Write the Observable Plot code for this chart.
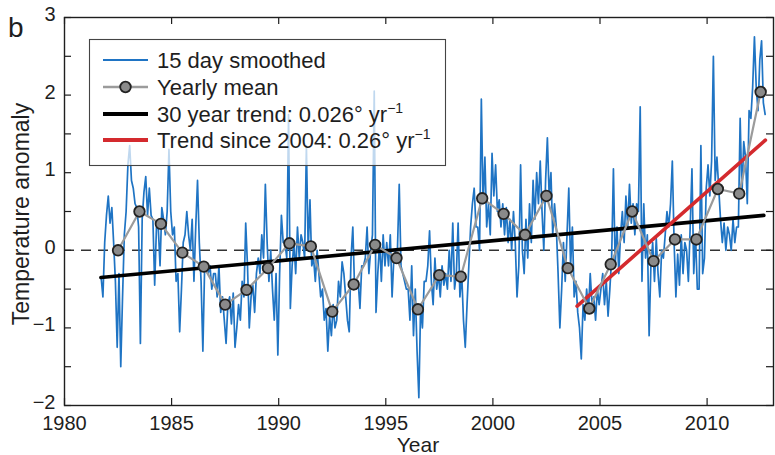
<!DOCTYPE html>
<html>
<head>
<meta charset="utf-8">
<script src="https://cdn.jsdelivr.net/npm/d3@7"></script>
<script src="https://cdn.jsdelivr.net/npm/@observablehq/plot@0.6"></script>
<style>
  html, body { margin: 0; padding: 0; background: #fff; }
  #chart svg { display: block; }
</style>
</head>
<body>
<div id="chart"></div>
<script>
// ---- Data ----
// 15-day smoothed series, sampled roughly monthly from late 1981 to mid 2012
const smoothStart = 1981.71;
const smoothStep = 1 / 12;
const smoothValues = [
  -0.35, -0.6, 0.1, 0.45,                                                   // 1981 (Sep-Dec)
  0.7, 0.35, 0.55, 0.1, -0.4, -1.25, -0.3, -1.5, -0.6, 0.2, 0.5, 1.1,       // 1982
  1.35, 0.9, 0.8, 0.6, 0.55, 0.3, -1.2, 0.4, 0.75, 0.95, 0.45, 0.8,         // 1983
  0.45, 0.4, -0.45, 0.3, 0.3, -0.2, 0.55, 0.4, 0.2, 0.5, 1.3, 0.5,          // 1984
  0.2, 0.3, -0.4, -0.3, -1.05, -0.5, 0.1, 0.2, 0.5, 0.2, 0.0, 0.4,          // 1985
  -0.4, 0.3, 0.9, 0.1, -0.4, -1.3, -0.2, -0.2, -0.3, -0.2, -0.5, -0.3,      // 1986
  -0.3, -0.6, -0.2, -0.8, -0.6, -0.9, -1.2, -0.7, -0.6, -0.95, -0.55, -1.25,// 1987
  -1.0, -0.7, -0.9, -0.4, -0.6, 0.35, -0.2, -1.0, -0.6, -0.45, -0.8, -0.3,  // 1988
  -0.1, -0.3, 0.2, -0.1, 0.85, 0.1, -0.4, 0.0, -0.5, -0.9, -0.3, -1.35,     // 1989
  -0.3, 0.45, 0.1, 0.1, -0.1, 1.75, -0.75, -0.2, 0.1, -0.3, 0.3, -0.1,      // 1990
  0.2, 0.1, -0.1, 1.35, 0.0, 0.65, -0.2, -0.1, -0.4, 0.0, -0.3, -0.6,       // 1991
  -0.5, -0.9, -0.75, -1.3, -0.85, -1.1, -0.7, -1.0, -0.9, -0.4, -0.6, -0.15,// 1992
  -0.3, -0.6, -0.9, -1.05, -0.1, 0.3, -0.5, -0.5, -0.4, -0.75, -0.2, -0.2,  // 1993
  -0.1, 0.3, -0.3, 0.0, 0.2, 2.05, -0.8, -0.3, 0.1, -0.4, 0.2, -0.2,        // 1994
  0.1, -0.2, 0.2, -0.6, -0.1, 0.0, 0.0, 0.85, -0.2, -0.3, -0.4, -0.5,       // 1995
  -0.5, -0.9, -0.2, -1.1, -0.5, -1.3, -1.9, -0.7, -1.0, -0.4, -0.4, -0.2,   // 1996
  0.25, -0.4, -0.7, -0.1, -0.5, -0.3, -0.6, -0.2, -0.45, -0.3, -0.5, 0.0,   // 1997
  -0.4, 0.35, -0.5, -0.3, 0.35, -0.6, -0.3, -0.9, -1.25, -0.7, -0.2, 0.3,   // 1998
  0.6, 0.8, 0.3, 0.3, 0.0, 1.95, 0.6, 1.2, 0.3, 0.6, 0.2, 1.25,             // 1999
  0.7, 1.1, 0.5, 0.65, 0.3, 0.6, 0.2, 0.55, 0.1, 0.4, 0.0, 0.5,             // 2000
  0.1, -0.6, -0.2, 1.1, 0.0, -0.3, 0.4, -0.1, 0.6, 0.1, 0.9, 0.4,           // 2001
  1.0, 0.6, 1.15, 0.5, 0.0, 0.9, 1.45, 0.7, 1.0, 0.2, 0.6, 0.3,             // 2002
  -0.3, -1.0, -0.5, 0.1, -0.4, 0.2, 0.8, -0.2, 0.3, -0.6, -0.4, -0.8,       // 2003
  -1.0, -1.4, -0.7, -0.9, -0.5, -0.8, -0.3, -0.7, -0.6, -0.9, -0.5, -0.7,   // 2004
  -0.5, -0.3, -0.7, -0.4, -0.85, -0.5, -0.1, 1.05, -0.2, 0.3, -0.3, 0.2,    // 2005
  0.5, 0.1, 0.7, 0.3, 0.85, 0.35, 0.6, 0.2, 0.6, 0.5, 1.85, -0.4,           // 2006
  0.6, -0.1, 0.2, -1.1, -0.2, 0.1, -0.4, 0.15, -0.3, -0.6, 0.0, -0.1,       // 2007
  0.2, 0.5, 0.3, 0.6, 1.15, 0.1, -0.6, -0.05, -0.45, 0.2, -0.3, 0.1,        // 2008
  0.0, -0.4, 0.3, 1.05, -0.3, 0.2, -0.5, -0.5, 1.35, -0.3, -0.1, 0.8,       // 2009
  1.1, 0.7, 1.15, 2.5, 0.9, 1.2, 0.8, 0.4, 0.1, 0.35, 0.0, 0.3,             // 2010
  0.2, 0.0, 0.4, 0.1, 0.3, 0.3, 1.7, 0.7, 1.4, 1.2, 0.6, 1.8,               // 2011
  1.7, 2.1, 2.75, 2.1, 1.8, 2.45, 2.7, 1.9, 1.75                            // 2012 (Jan-Sep)
];

// Yearly means (plotted at mid-year)
const yearlyYears = [1982.5, 1983.5, 1984.5, 1985.5, 1986.5, 1987.5, 1988.5, 1989.5,
  1990.5, 1991.5, 1992.5, 1993.5, 1994.5, 1995.5, 1996.5, 1997.5, 1998.5, 1999.5,
  2000.5, 2001.5, 2002.5, 2003.5, 2004.5, 2005.5, 2006.5, 2007.5, 2008.5, 2009.5,
  2010.5, 2011.5, 2012.5];
const yearlyMeans = [0.0, 0.5, 0.34, -0.03, -0.21, -0.70, -0.51, -0.23,
  0.09, 0.05, -0.79, -0.44, 0.07, -0.10, -0.76, -0.32, -0.34, 0.67,
  0.47, 0.20, 0.70, -0.23, -0.75, -0.18, 0.50, -0.14, 0.14, 0.14,
  0.79, 0.73, 2.04];

// Trend lines (end points)
const trend30Years = [1981.7, 2012.65];
const trend30Values = [-0.35, 0.45];
const trend04Years = [2003.93, 2012.72];
const trend04Values = [-0.72, 1.42];

// Ticks
const xTickLabels = [1980, 1985, 1990, 1995, 2000, 2005, 2010];
const yTickLabels = [-2, -1, 0, 1, 2, 3];
const yTickMarks = [-2, -1.5, -1, -0.5, 0, 0.5, 1, 1.5, 2, 2.5, 3];

// Legend
const legendLabels = ["15 day smoothed", "Yearly mean", "30 year trend: 0.026° yr", "Trend since 2004: 0.26° yr"];
const legendSup = ["", "", "\u22121", "\u22121"];

// ---- Styles ----
const blue = "#1f74c4";
const gray = "#9b9b9b";
const red = "#d42a2e";
const ink = "#1e1e1e";
const font = "'Liberation Sans', Arial, sans-serif";

const W = 775, H = 455, mL = 64, mR = 2, mT = 17, mB = 50;
const frameW = W - mL - mR, frameH = H - mT - mB, tickLen = 7;

const smoothData = smoothValues.map((v, i) => ({t: smoothStart + i * smoothStep, v}));
const yearly = yearlyYears.map((t, i) => ({t, v: yearlyMeans[i]}));
const trend30 = trend30Years.map((t, i) => ({t, v: trend30Values[i]}));
const trend04 = trend04Years.map((t, i) => ({t, v: trend04Values[i]}));

const fmtY = d => d < 0 ? "\u2212" + Math.abs(d) : String(d);

const chart = Plot.plot({
  width: W, height: H,
  marginLeft: mL, marginRight: mR, marginTop: mT, marginBottom: mB,
  x: {domain: [1980, 2013.1]},
  y: {domain: [-2, 3]},
  style: {fontFamily: font, fontSize: "20px", color: ink, background: "white"},
  marks: [
    Plot.ruleY([0], {stroke: "#333", strokeWidth: 1.4, strokeDasharray: "10,7"}),
    Plot.line(smoothData, {x: "t", y: "v", stroke: blue, strokeWidth: 1.7, strokeLinejoin: "round"}),
    Plot.line(trend30, {x: "t", y: "v", stroke: "#000", strokeWidth: 3.6}),
    Plot.line(trend04, {x: "t", y: "v", stroke: red, strokeWidth: 3.6}),
    Plot.line(yearly, {x: "t", y: "v", stroke: gray, strokeWidth: 2.2}),
    Plot.dot(yearly, {x: "t", y: "v", r: 5.3, fill: "#8a8a8a", stroke: "#222", strokeWidth: 1.8}),
    // inward tick marks on all four sides
    Plot.ruleX(xTickLabels, {x: d => d, insetTop: frameH - tickLen, stroke: ink, strokeWidth: 1.2}),
    Plot.ruleX(xTickLabels, {x: d => d, insetBottom: frameH - tickLen, stroke: ink, strokeWidth: 1.2}),
    Plot.ruleY(yTickMarks, {y: d => d, insetRight: frameW - tickLen, stroke: ink, strokeWidth: 1.2}),
    Plot.ruleY(yTickMarks, {y: d => d, insetLeft: frameW - tickLen, stroke: ink, strokeWidth: 1.2}),
    Plot.axisX(xTickLabels, {anchor: "bottom", tickSize: 0, tickPadding: 10, tickFormat: d => String(d), label: null, fontSize: 20}),
    Plot.axisY(yTickLabels, {anchor: "left", tickSize: 0, tickPadding: 9, dy: -3, tickFormat: fmtY, label: null, fontSize: 20}),
    Plot.frame({stroke: ink, strokeWidth: 1.4})
  ]
});

document.getElementById("chart").appendChild(chart);

const svg = d3.select(chart);

// Axis titles and panel letter
svg.append("text").attr("x", 418).attr("y", 452).attr("text-anchor", "middle")
  .style("font-family", font).style("font-size", "21px").attr("fill", ink).text("Year");
svg.append("text").attr("transform", "translate(29,214) rotate(-90)").attr("text-anchor", "middle")
  .style("font-family", font).style("font-size", "23px").attr("fill", ink).text("Temperature anomaly");
svg.append("text").attr("x", 8).attr("y", 37).attr("text-anchor", "start")
  .style("font-family", font).style("font-size", "28px").attr("fill", ink).text("b");

// Legend
const lg = svg.append("g").attr("text-anchor", "start");
lg.append("rect").attr("x", 89.5).attr("y", 39.5).attr("width", 356).attr("height", 126)
  .attr("fill", "white").attr("fill-opacity", 0.72).attr("stroke", "#444").attr("stroke-width", 1.1);
const rowY = [60, 87, 114, 140];
const sampleStyle = [
  {stroke: blue, w: 1.8},
  {stroke: gray, w: 2.4},
  {stroke: "#000", w: 4},
  {stroke: red, w: 4}
];
legendLabels.forEach((lab, i) => {
  const y = rowY[i];
  lg.append("line").attr("x1", 103).attr("x2", 148).attr("y1", y).attr("y2", y)
    .attr("stroke", sampleStyle[i].stroke).attr("stroke-width", sampleStyle[i].w);
  if (i === 1) {
    lg.append("circle").attr("cx", 125.5).attr("cy", y).attr("r", 5.3)
      .attr("fill", "#8a8a8a").attr("stroke", "#222").attr("stroke-width", 1.8);
  }
  const t = lg.append("text").attr("x", 157).attr("y", y + 8).attr("text-anchor", "start")
    .style("font-family", font).style("font-size", "22px").attr("fill", ink).text(lab);
  if (legendSup[i]) {
    t.append("tspan").attr("dy", -9).style("font-size", "14px").text(legendSup[i]);
  }
});
</script>
</body>
</html>
